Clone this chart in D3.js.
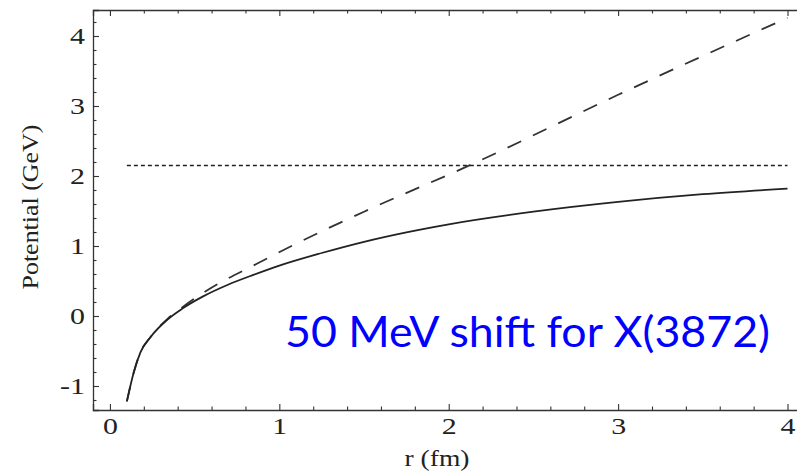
<!DOCTYPE html>
<html>
<head>
<meta charset="utf-8">
<script src="https://cdn.jsdelivr.net/npm/d3@7"></script>
<style>
  html, body { margin: 0; padding: 0; background: #fff; }
  svg { display: block; }
</style>
</head>
<body>
<svg id="chart" width="797" height="474"></svg>
<script>
// ---- data ----
const solidR = [0.10, 0.14, 0.18, 0.24, 0.34, 0.43, 0.55, 0.70, 0.85, 1.00, 1.25, 1.50, 1.75, 2.00, 2.50, 3.00, 3.50, 4.00];
const solidV = [-1.22, -0.81, -0.52, -0.30, -0.05, 0.11, 0.28, 0.45, 0.59, 0.72, 0.90, 1.06, 1.195, 1.31, 1.49, 1.63, 1.74, 1.82];
const dashedR = [0.10, 0.14, 0.18, 0.24, 0.34, 0.43, 0.57, 0.87, 1.08, 1.50, 2.13, 3.00, 4.00];
const dashedV = [-1.22, -0.81, -0.52, -0.30, -0.04, 0.13, 0.36, 0.75, 1.01, 1.49, 2.16, 3.16, 4.26];
const thresholdR = [0.10, 4.00];
const thresholdV = [2.15, 2.15];
const xTickValues = [0, 1, 2, 3, 4];
const yTickValues = [-1, 0, 1, 2, 3, 4];
const xLabel = "r (fm)";
const yLabel = "Potential (GeV)";
const annotation = "50 MeV shift for X(3872)";

// ---- layout ----
const svg = d3.select("#chart");
const frame = { left: 93, right: 800, top: 10, bottom: 410 };
const x = d3.scaleLinear().domain([-0.1, 4]).range([93, 787.5]);
const y = d3.scaleLinear().domain([-1, 4]).range([386, 36]);
const xFull = d3.scaleLinear().domain([x.invert(frame.left), x.invert(frame.right)]).range([frame.left, frame.right]);
const yFull = d3.scaleLinear().domain([y.invert(frame.bottom), y.invert(frame.top)]).range([frame.bottom, frame.top]);

const xMinor = d3.range(0, 4.01, 0.2).map(v => +v.toFixed(1)).filter(v => !xTickValues.includes(v));
const yMinor = d3.range(-1.2, 4.21, 0.2).map(v => +v.toFixed(1)).filter(v => !yTickValues.includes(v));

const axisColor = "#333";
const serif = "Liberation Serif, Times New Roman, serif";

function widen(factor) {
  return sel => sel.each(function() {
    const len = this.getComputedTextLength();
    if (len > 0) d3.select(this).attr("textLength", len * factor).attr("lengthAdjust", "spacingAndGlyphs");
  });
}

function styleAxis(g) {
  g.select(".domain").attr("stroke", axisColor).attr("stroke-width", 1.3);
  g.selectAll(".tick line").attr("stroke", axisColor).attr("stroke-width", 1.1);
  g.selectAll(".tick text").attr("fill", "#222").style("font-family", serif).style("font-size", "23px");
}

// bottom axis
svg.append("g").attr("transform", `translate(0,${frame.bottom})`)
  .call(d3.axisBottom(xFull).tickValues(xTickValues).tickSize(-6).tickPadding(8).tickFormat(d3.format("d")))
  .call(styleAxis);
svg.append("g").attr("transform", `translate(0,${frame.bottom})`)
  .call(d3.axisBottom(xFull).tickValues(xMinor).tickSize(-3.5).tickFormat(""))
  .call(styleAxis).call(g => g.select(".domain").remove());
// top axis
svg.append("g").attr("transform", `translate(0,${frame.top})`)
  .call(d3.axisTop(xFull).tickValues(xTickValues).tickSize(-6).tickFormat(""))
  .call(styleAxis);
svg.append("g").attr("transform", `translate(0,${frame.top})`)
  .call(d3.axisTop(xFull).tickValues(xMinor).tickSize(-3.5).tickFormat(""))
  .call(styleAxis).call(g => g.select(".domain").remove());
// left axis
svg.append("g").attr("transform", `translate(${frame.left},0)`)
  .call(d3.axisLeft(yFull).tickValues(yTickValues).tickSize(-6).tickPadding(8).tickFormat(d3.format("d")))
  .call(styleAxis);
svg.append("g").attr("transform", `translate(${frame.left},0)`)
  .call(d3.axisLeft(yFull).tickValues(yMinor).tickSize(-3.5).tickFormat(""))
  .call(styleAxis).call(g => g.select(".domain").remove());

// hyphen minus like the reference, then widen along the baseline
svg.selectAll(".tick text").text(function() { return d3.select(this).text().replace("\u2212", "-"); });
svg.selectAll(".tick text").call(widen(1.3));

// curves
const line = d3.line().x(d => x(d[0])).y(d => y(d[1])).curve(d3.curveMonotoneX);
svg.append("path")
  .datum(dashedR.map((r, i) => [r, dashedV[i]]))
  .attr("d", line).attr("fill", "none").attr("stroke", "#333").attr("stroke-width", 1.8)
  .attr("stroke-dasharray", "15,13");
svg.append("path")
  .datum(thresholdR.map((r, i) => [r, thresholdV[i]]))
  .attr("d", line).attr("fill", "none").attr("stroke", "#222").attr("stroke-width", 1.3)
  .attr("stroke-dasharray", "4,3");
svg.append("path")
  .datum(solidR.map((r, i) => [r, solidV[i]]))
  .attr("d", line).attr("fill", "none").attr("stroke", "#222").attr("stroke-width", 1.8);

// axis titles
svg.append("text").attr("x", 437).attr("y", 466).attr("text-anchor", "middle")
  .style("font-family", serif).style("font-size", "23px").attr("fill", "#222").text(xLabel)
  .attr("textLength", 65).attr("lengthAdjust", "spacingAndGlyphs");
svg.append("text").attr("transform", `translate(38,207) rotate(-90)`).attr("text-anchor", "middle")
  .style("font-family", serif).style("font-size", "23px").attr("fill", "#222").text(yLabel)
  .attr("textLength", 165).attr("lengthAdjust", "spacingAndGlyphs");

// annotation
svg.append("text").attr("x", 285).attr("y", 347)
  .style("font-family", "Lato, Open Sans, sans-serif").style("font-size", "42px").attr("fill", "#0000ff")
  .attr("textLength", 485).attr("lengthAdjust", "spacingAndGlyphs")
  .text(annotation);
</script>
</body>
</html>
